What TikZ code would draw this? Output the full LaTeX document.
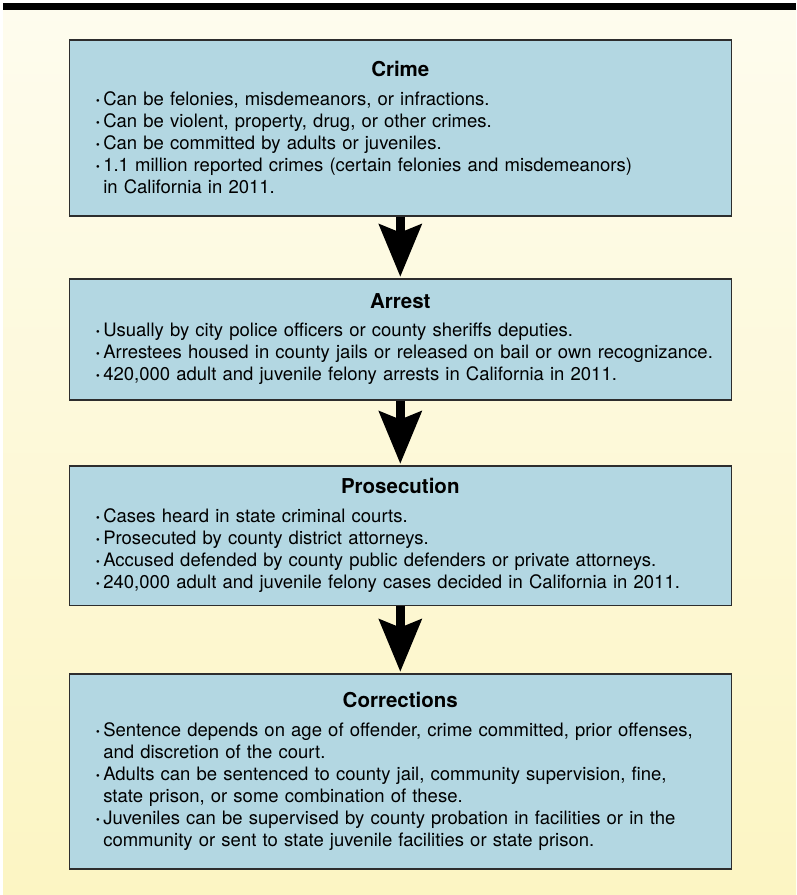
\documentclass[tikz,border=0pt]{standalone}
\usepackage{fontspec}
\setmainfont{TeX Gyre Heros}
\usetikzlibrary{arrows.meta}
\definecolor{boxblue}{RGB}{179,215,226}
\definecolor{bordergray}{RGB}{45,45,45}
\definecolor{bgtop}{RGB}{254,252,238}
\definecolor{bgbot}{RGB}{252,245,195}
\newcommand\bl[1]{\makebox[606pt][l]{\makebox[6pt][l]{\hspace*{-2pt}\textbf{·}}#1}}
\newcommand\cl[1]{\makebox[606pt][l]{\hspace*{6pt}#1}}
\newcommand\ttl[1]{{\fontsize{20.5}{22}\selectfont\bfseries #1}}
\begin{document}
\begin{tikzpicture}[x=1pt,y=-1pt,
  stagebox/.style={draw=bordergray, line width=1.5pt, fill=boxblue, anchor=north,
    text width=606pt, inner xsep=28pt, inner ysep=0pt, align=center,
    font=\fontsize{18.5}{22}\selectfont},
  flow/.style={line width=9pt, -{Stealth[length=53pt,width=44pt,inset=9pt,line width=0pt]},
    shorten >=1.5pt}]
\useasboundingbox (0,0) rectangle (796,895);
\shade[top color=bgtop, bottom color=bgbot] (3,10) rectangle (796,895);
\fill[black] (3,3) rectangle (796,10);

\node[stagebox, minimum height=176pt] (crime) at (400.3,39) {\ttl{Crime}\\[6.5pt]
\bl{Can be felonies, misdemeanors, or infractions.}\\
\bl{Can be violent, property, drug, or other crimes.}\\
\bl{Can be committed by adults or juveniles.}\\
\bl{1.1 million reported crimes (certain felonies and misdemeanors)}\\
\cl{in California in 2011.}};

\node[stagebox, minimum height=121pt] (arrest) at (400.3,278) {\ttl{Arrest}\\[6.5pt]
\bl{Usually by city police officers or county sheriffs deputies.}\\
\bl{Arrestees housed in county jails or released on bail or own recognizance.}\\
\bl{420,000 adult and juvenile felony arrests in California in 2011.}};

\node[stagebox, minimum height=139.5pt] (prosec) at (400.3,465) {\ttl{Prosecution}\\[6.5pt]
\bl{Cases heard in state criminal courts.}\\
\bl{Prosecuted by county district attorneys.}\\
\bl{Accused defended by county public defenders or private attorneys.}\\
\bl{240,000 adult and juvenile felony cases decided in California in 2011.}};

\node[stagebox, minimum height=195pt] (correct) at (400.3,673) {\ttl{Corrections}\\[6.5pt]
\bl{Sentence depends on age of offender, crime committed, prior offenses,}\\
\cl{and discretion of the court.}\\
\bl{Adults can be sentenced to county jail, community supervision, fine,}\\
\cl{state prison, or some combination of these.}\\
\bl{Juveniles can be supervised by county probation in facilities or in the}\\
\cl{community or sent to state juvenile facilities or state prison.}};

\draw[flow] (crime.south) -- (arrest.north);
\draw[flow] (arrest.south) -- (prosec.north);
\draw[flow] (prosec.south) -- (correct.north);
\end{tikzpicture}
\end{document}
